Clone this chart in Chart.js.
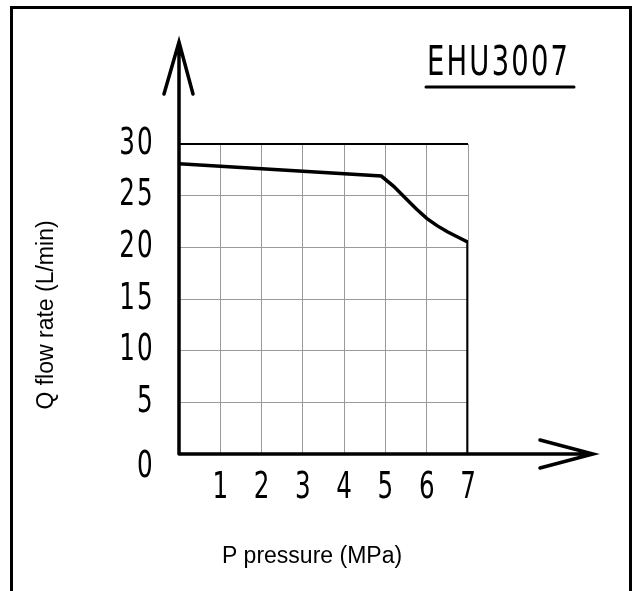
<!DOCTYPE html>
<html>
<head>
<meta charset="utf-8">
<script src="https://cdn.jsdelivr.net/npm/chart.js@4"></script>
<style>
    body { margin: 0; background: #fff; }
    #chart { display: block; }
</style>
</head>
<body>
<canvas id="chart" width="637" height="591"></canvas>
<script>
// data
const pressure = [0, 4.9, 5.2, 5.5, 5.75, 6.0, 6.25, 6.5, 6.75, 7.0, 7.0];
const flowRate = [28.1, 26.9, 25.9, 24.7, 23.7, 22.8, 22.1, 21.5, 21.0, 20.5, 0];
const xTicks = [0, 1, 2, 3, 4, 5, 6, 7];
const yTicks = [0, 5, 10, 15, 20, 25, 30];
const modelName = "EHU3007";
const xTitle = "P pressure (MPa)";
const yTitle = "Q flow rate (L/min)";

// the drawing uses a narrow CAD lettering; squeeze a condensed face to match
const narrow = "'DejaVu Sans Condensed', 'DejaVu Sans', sans-serif";
const plain = "'Liberation Sans', Arial, sans-serif";
const squeeze = 0.74;

const squeezedText = (ctx, text, x, y, sx) => {
    ctx.save();
    ctx.translate(x, y);
    ctx.scale(sx, 1);
    ctx.fillText(text, 0, 0);
    ctx.restore();
};

const decorations = {
    id: 'decorations',
    beforeDraw(chart) {
        const ctx = chart.ctx;
        ctx.save();
        ctx.fillStyle = '#fff';
        ctx.fillRect(0, 0, chart.width, chart.height);
        ctx.restore();
    },
    afterDraw(chart) {
        const ctx = chart.ctx;
        const x = chart.scales.x, y = chart.scales.y;
        const x0 = x.getPixelForValue(0), y0 = y.getPixelForValue(0);
        ctx.save();
        ctx.strokeStyle = '#000';
        ctx.fillStyle = '#000';
        ctx.lineCap = 'round';

        // outer frame
        ctx.lineWidth = 3;
        ctx.strokeRect(11.5, 7.5, 619, 620);

        // axes with open arrow heads
        ctx.lineWidth = 3.5;
        const yTip = 42, xTip = 593;
        ctx.beginPath();
        ctx.moveTo(x0, y0); ctx.lineTo(x0, yTip);
        ctx.moveTo(x0 - 15, yTip + 52); ctx.lineTo(x0, yTip); ctx.lineTo(x0 + 14, yTip + 52);
        ctx.moveTo(x0, y0); ctx.lineTo(xTip, y0);
        ctx.moveTo(xTip - 53, y0 - 14); ctx.lineTo(xTip, y0); ctx.lineTo(xTip - 53, y0 + 14);
        ctx.stroke();

        // tick labels, placed by the scales
        ctx.font = "37px " + narrow;
        ctx.letterSpacing = '3px';
        ctx.textBaseline = 'middle';
        ctx.textAlign = 'right';
        yTicks.forEach(v => {
            const py = y.getPixelForValue(v) + (v === 0 ? 13 : 0);
            squeezedText(ctx, String(v), x0 - 24, py, squeeze);
        });
        ctx.letterSpacing = '0px';
        ctx.textAlign = 'center';
        xTicks.filter(v => v > 0).forEach(v => {
            squeezedText(ctx, String(v), x.getPixelForValue(v), y0 + 34, squeeze);
        });

        // model name, underlined
        ctx.font = "41px " + narrow;
        ctx.letterSpacing = '3px';
        ctx.textAlign = 'left';
        ctx.textBaseline = 'alphabetic';
        const w = ctx.measureText(modelName).width - 3;
        squeezedText(ctx, modelName, 427, 75, 141 / w);
        ctx.letterSpacing = '0px';
        ctx.lineWidth = 3;
        ctx.beginPath();
        ctx.moveTo(426, 87); ctx.lineTo(574, 87);
        ctx.stroke();

        // axis titles
        ctx.font = "23px " + plain;
        ctx.textAlign = 'center';
        ctx.textBaseline = 'middle';
        ctx.fillText(xTitle, 312, 557);
        ctx.translate(47, 315);
        ctx.rotate(-Math.PI / 2);
        ctx.fillText(yTitle, 0, 0);
        ctx.restore();
    }
};

new Chart(document.getElementById('chart').getContext('2d'), {
    type: 'line',
    data: {
        datasets: [{
            data: pressure.map((p, i) => ({ x: p, y: flowRate[i] })),
            borderColor: '#000',
            borderWidth: 3.5,
            pointRadius: 0,
            tension: 0,
            fill: false
        }]
    },
    options: {
        responsive: false,
        devicePixelRatio: 1,
        animation: false,
        events: [],
        layout: { padding: { left: 0, right: 169, top: 144, bottom: 0 } },
        plugins: { legend: { display: false }, tooltip: { enabled: false } },
        scales: {
            x: {
                type: 'linear',
                min: 0,
                max: 7,
                afterFit: (scale) => { scale.height = 137; },
                afterBuildTicks: (scale) => { scale.ticks = xTicks.map(v => ({ value: v })); },
                ticks: { display: false },
                grid: { color: '#9a9a9a', lineWidth: 1, drawTicks: false },
                border: { display: false }
            },
            y: {
                min: 0,
                max: 30,
                afterFit: (scale) => { scale.width = 179; },
                afterBuildTicks: (scale) => { scale.ticks = yTicks.map(v => ({ value: v })); },
                ticks: { display: false },
                grid: {
                    color: (c) => c.tick && c.tick.value === 30 ? '#000' : '#9a9a9a',
                    lineWidth: (c) => c.tick && c.tick.value === 30 ? 2 : 1,
                    drawTicks: false
                },
                border: { display: false }
            }
        }
    },
    plugins: [decorations]
});
</script>
</body>
</html>
